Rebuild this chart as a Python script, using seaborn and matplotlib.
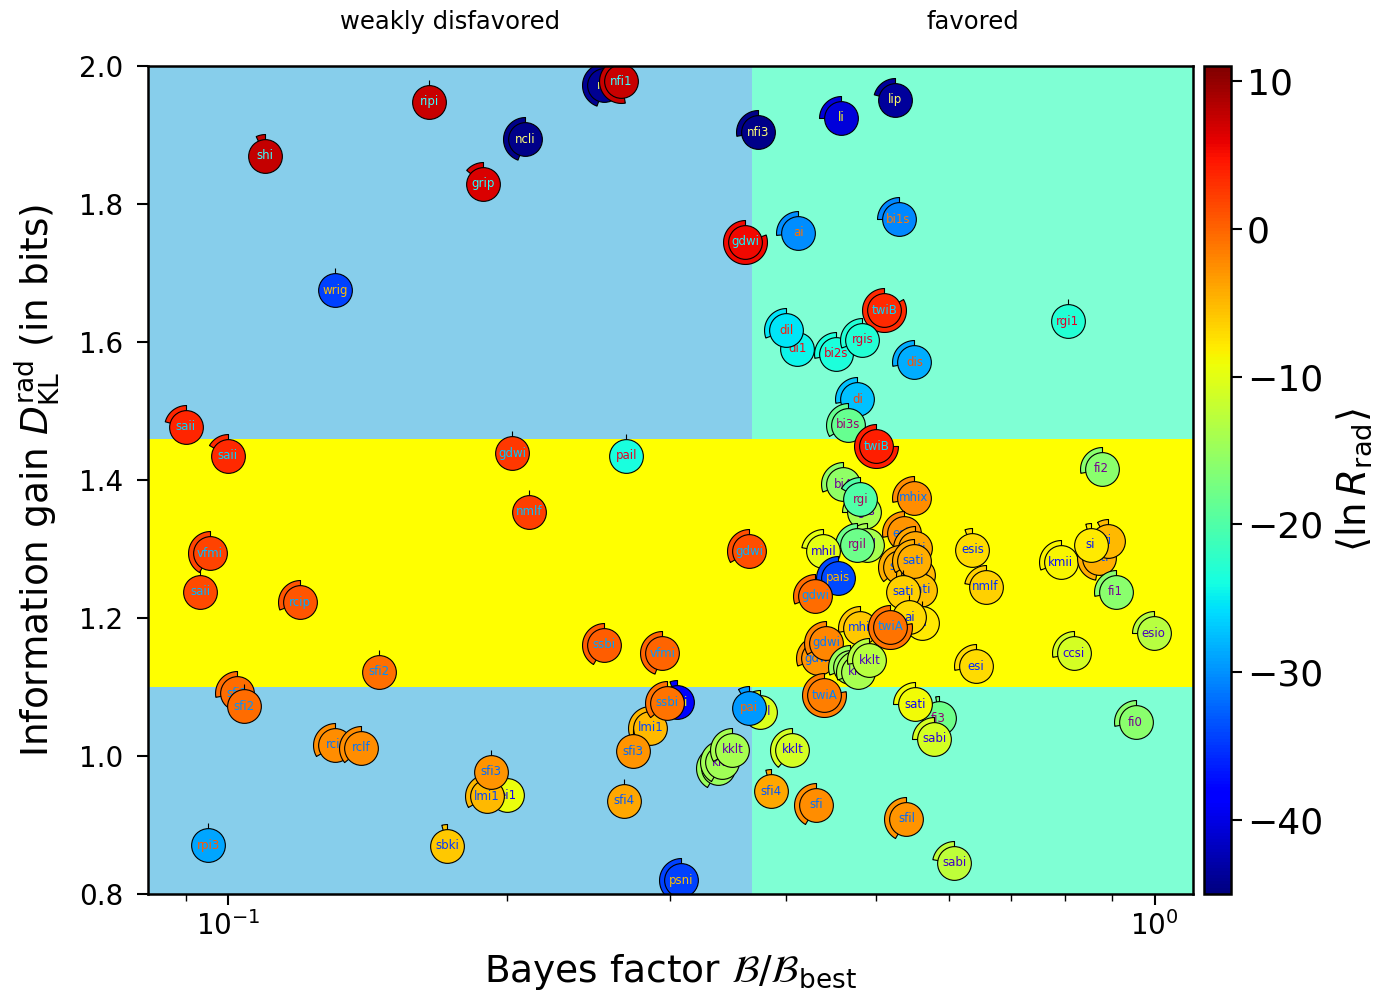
"""
Model comparison map: Bayes factor vs. radial information gain,
coloured by the mean log-likelihood, with a wedge showing the spread.
"""

import matplotlib
matplotlib.use("Agg")
import matplotlib.pyplot as plt
import matplotlib.transforms as mtransforms
import numpy as np
import pandas as pd
import seaborn as sns
from matplotlib import cm
from matplotlib import colors as mcolors
from matplotlib.path import Path
from matplotlib.ticker import FormatStrFormatter, LogLocator, NullFormatter


# ---------------------------------------------------------------------------
# Data
# ---------------------------------------------------------------------------

NAMES = [
    "ripi", "shi", "ncli", "grip", "wrig", "nli", "nfi1", "nfi3", "li", "lip",
    "gdwi", "ai", "bi1s", "twiB", "rgi1", "di1", "dil", "bi2s", "rgis", "dis",
    "di", "bi3s", "twiB", "saii", "saii", "gdwi", "pail", "nmlf", "vfmi", "saii",
    "rcip", "sfi2", "sfi2", "sfi2", "gdwi", "ssbi", "vfmi", "bi4", "rgis", "rgi",
    "mhix", "esi9", "rgil", "rgil", "mhil", "pais", "gdwi", "sati", "sati", "sati",
    "sati", "sati", "sati", "bi", "ai", "mhil", "twiA", "gdwi", "gdwi", "kklt",
    "kklt", "kklt", "twiA", "esi", "esis", "nmlf", "kmii", "sati", "ti", "si",
    "fi2", "fi1", "esio", "ccsi", "fi0", "fi3", "sati", "sabi", "sabi", "sfil",
    "sfi", "sfi4", "kklt", "kklt", "kklt", "kklt", "pail", "pai", "nmi", "lmi1",
    "ssbi", "sfi3", "sfi4", "psni", "rcif", "rclf", "ei1", "lmi1", "sfi3", "sbki",
    "rpi3",
]

BAYES = [
    0.1649, 0.1096, 0.2093, 0.1886, 0.1305, 0.2548, 0.2658, 0.3736, 0.4592, 0.5252,
    0.3617, 0.4127, 0.5292, 0.5111, 0.8055, 0.4117, 0.4005, 0.4536, 0.4838, 0.5506,
    0.4779, 0.4673, 0.5010, 0.0901, 0.1000, 0.2027, 0.2691, 0.2114, 0.0956, 0.0933,
    0.1196, 0.1456, 0.1023, 0.1041, 0.3653, 0.2548, 0.2943, 0.4615, 0.4862, 0.4814,
    0.5493, 0.5371, 0.4899, 0.4779, 0.4391, 0.4558, 0.4305, 0.5520, 0.5318, 0.5561,
    0.5589, 0.5493, 0.5358, 0.5617, 0.5438, 0.4814, 0.5187, 0.4337, 0.4424, 0.4696,
    0.4790, 0.4923, 0.4402, 0.6408, 0.6360, 0.6569, 0.7916, 0.8700, 0.8897, 0.8529,
    0.8765, 0.9076, 0.9975, 0.8176, 0.9539, 0.5845, 0.5520, 0.5787, 0.6082, 0.5398,
    0.4316, 0.3859, 0.4066, 0.3382, 0.3416, 0.3502, 0.3755, 0.3653, 0.3055, 0.2857,
    0.2980, 0.2738, 0.2678, 0.3085, 0.1305, 0.1392, 0.2001, 0.1904, 0.1923, 0.1724,
    0.0952,
]

DKL = [
    1.948, 1.870, 1.894, 1.829, 1.675, 1.972, 1.978, 1.904, 1.925, 1.951,
    1.745, 1.758, 1.778, 1.646, 1.630, 1.590, 1.617, 1.583, 1.603, 1.571,
    1.517, 1.480, 1.449, 1.477, 1.435, 1.439, 1.435, 1.354, 1.294, 1.238,
    1.223, 1.122, 1.091, 1.072, 1.297, 1.161, 1.149, 1.394, 1.354, 1.372,
    1.374, 1.323, 1.306, 1.306, 1.297, 1.258, 1.232, 1.301, 1.274, 1.262,
    1.241, 1.283, 1.238, 1.193, 1.201, 1.186, 1.187, 1.142, 1.164, 1.129,
    1.122, 1.139, 1.088, 1.130, 1.299, 1.245, 1.281, 1.287, 1.312, 1.306,
    1.416, 1.238, 1.178, 1.149, 1.049, 1.055, 1.075, 1.025, 0.845, 0.909,
    0.929, 0.949, 1.009, 0.983, 0.991, 1.009, 1.064, 1.070, 1.078, 1.041,
    1.077, 1.007, 0.935, 0.820, 1.016, 1.012, 0.943, 0.942, 0.977, 0.870,
    0.871,
]

# mean ln R_rad (colour)
LN_R = [
    7.3, 7.5, -44.5, 6.5, -34.5, -44.0, 7.3, -44.5, -40.5, -43.5,
    5.5, -30.3, -30.5, 3.5, -23.0, -24.5, -25.5, -23.5, -23.0, -28.5,
    -27.5, -18.5, 4.0, 3.7, 3.5, 2.5, -23.7, 2.2, 2.0, 1.5,
    0.8, -0.8, -0.5, -0.5, 1.2, 0.3, 0.0, -15.5, -14.0, -20.0,
    -2.5, -3.0, -14.0, -18.0, -10.0, -34.0, -0.5, -4.0, -4.5, -5.0,
    -5.5, -4.5, -6.5, -8.0, -7.0, -6.0, -1.0, -3.0, -2.0, -15.0,
    -14.0, -13.0, -1.5, -7.0, -7.0, -6.5, -8.5, -4.5, -5.0, -8.0,
    -16.0, -16.0, -13.0, -11.0, -16.0, -18.0, -9.0, -11.0, -12.5, -3.0,
    -2.5, -4.0, -11.0, -15.0, -14.5, -14.0, -10.5, -29.5, -38.0, -5.0,
    -1.0, -3.0, -4.0, -34.5, -2.5, -2.5, -9.5, -5.0, -3.0, -6.0,
    -29.0,
]

# spread of ln R_rad, drawn as a wedge (degrees, counter-clockwise from top)
SPREAD_DEG = [
    0, 25, 160, 50, 0, 160, 190, 100, 90, 75,
    290, 95, 90, 300, 0, 0, 110, 100, 110, 100,
    100, 120, 270, 75, 60, 0, 0, 0, 150, 0,
    110, 0, 100, 0, 120, 150, 160, 110, 90, 60,
    100, 100, 90, 100, 80, 100, 110, 120, 130, 100,
    100, 120, 0, 0, 0, 100, 280, 110, 120, 110,
    110, 100, 280, 100, 20, 80, 110, 170, 30, 15,
    100, 100, 90, 100, 100, 10, 90, 90, 80, 150,
    150, 15, 140, 150, 150, 120, 20, 30, 20, 110,
    130, 0, 0, 150, 120, 130, 0, 120, 0, 15,
    0,
]

X_LIM = (0.082, 1.10)
Y_LIM = (0.8, 2.0)
FAVOURED_EDGE = np.exp(-1)      # Jeffreys: ln B > -1
BAND = (1.10, 1.46)
CBAR_RANGE = (-45, 11)
CBAR_TICKS = [10, 0, -10, -20, -30, -40]


def wedge_marker(deg):
    """Unit wedge starting at 12 o'clock, opening counter-clockwise."""
    th = np.deg2rad(np.linspace(90, 90 + deg, max(int(deg), 1) + 1))
    verts = np.vstack([[0, 0], np.column_stack([np.cos(th), np.sin(th)]), [0, 0]])
    codes = [Path.MOVETO] + [Path.LINETO] * (len(verts) - 2) + [Path.CLOSEPOLY]
    return Path(verts, codes)


sns.set_style("ticks")
plt.rcParams["font.family"] = ["DejaVu Sans"]
for key in ("text.color", "axes.labelcolor", "xtick.color", "ytick.color", "axes.edgecolor"):
    plt.rcParams[key] = "black"

df = pd.DataFrame({"label": NAMES, "bayes": BAYES, "dkl": DKL,
                   "lnr": LN_R, "arc": SPREAD_DEG})

fig = plt.figure(figsize=(13.94, 10), dpi=100)
ax = fig.add_axes([0.1062, 0.106, 0.7496, 0.828])
cax = fig.add_axes([0.8637, 0.106, 0.0194, 0.828])
ax.set_xscale("log")

# background regions
ax.axvspan(X_LIM[0], FAVOURED_EDGE, color="skyblue", lw=0, zorder=0)
ax.axvspan(FAVOURED_EDGE, X_LIM[1], color="aquamarine", lw=0, zorder=0)
ax.axhspan(*BAND, color="yellow", lw=0, zorder=0.5)

norm = mcolors.Normalize(*CBAR_RANGE)
cmap = plt.get_cmap("jet")

for i, row in df.iterrows():
    rgba = cmap(norm(row["lnr"]))
    z = 5 + 3 * i
    sns.scatterplot(x=[row["bayes"]], y=[row["dkl"]], marker=wedge_marker(row["arc"]),
                    s=1000, color=rgba, edgecolor="k", linewidth=0.8,
                    zorder=z, legend=False, ax=ax)
    sns.scatterplot(x=[row["bayes"]], y=[row["dkl"]], marker="o",
                    s=590, color=rgba, edgecolor="k", linewidth=0.8,
                    zorder=z + 1, legend=False, ax=ax)
    inv = tuple(1 - c for c in rgba[:3])
    ax.text(row["bayes"], row["dkl"], row["label"], color=inv, fontsize=8.5,
            ha="center", va="center", zorder=z + 2)

ax.set_xlim(*X_LIM)
ax.set_ylim(*Y_LIM)
ax.xaxis.set_minor_locator(LogLocator(base=10, subs=np.arange(2, 10)))
ax.xaxis.set_minor_formatter(NullFormatter())
ax.set_yticks(np.arange(0.8, 2.01, 0.2))
ax.yaxis.set_major_formatter(FormatStrFormatter("%.1f"))

ax.tick_params(axis="y", which="major", labelsize=20, length=8, width=1.5, pad=10)
ax.tick_params(axis="x", which="major", labelsize=20, length=8, width=1.5, pad=4)
ax.tick_params(axis="x", which="minor", length=5, width=1.0)
for sp in ax.spines.values():
    sp.set_linewidth(1.8)
    sp.set_color("k")
    sp.set_zorder(1000)

ax.set_xlabel(r"Bayes factor $\mathcal{B}/\mathcal{B}_{\rm best}$", fontsize=27, labelpad=8)
ax.set_ylabel(r"Information gain $D_{\rm KL}^{\rm rad}$ (in bits)", fontsize=27, labelpad=12)

# region captions above the axes
trans = mtransforms.blended_transform_factory(ax.transData, ax.transAxes)
ax.text(np.sqrt(X_LIM[0] * FAVOURED_EDGE), 1.053, "weakly disfavored",
        transform=trans, ha="center", va="center", fontsize=17.5)
ax.text(np.sqrt(FAVOURED_EDGE * X_LIM[1]), 1.053, "favored",
        transform=trans, ha="center", va="center", fontsize=17.5)

# colour bar
sm = cm.ScalarMappable(norm=norm, cmap=cmap)
cb = fig.colorbar(sm, cax=cax)
cb.set_ticks(CBAR_TICKS)
cb.ax.tick_params(labelsize=26, length=8, width=1.5, colors="black")
cb.outline.set_linewidth(1.8)
cb.outline.set_edgecolor("black")
cb.set_label(r"$\langle \ln R_{\rm rad} \rangle$", fontsize=28, labelpad=8)

fig.savefig("out.png", dpi=100)
plt.close(fig)
